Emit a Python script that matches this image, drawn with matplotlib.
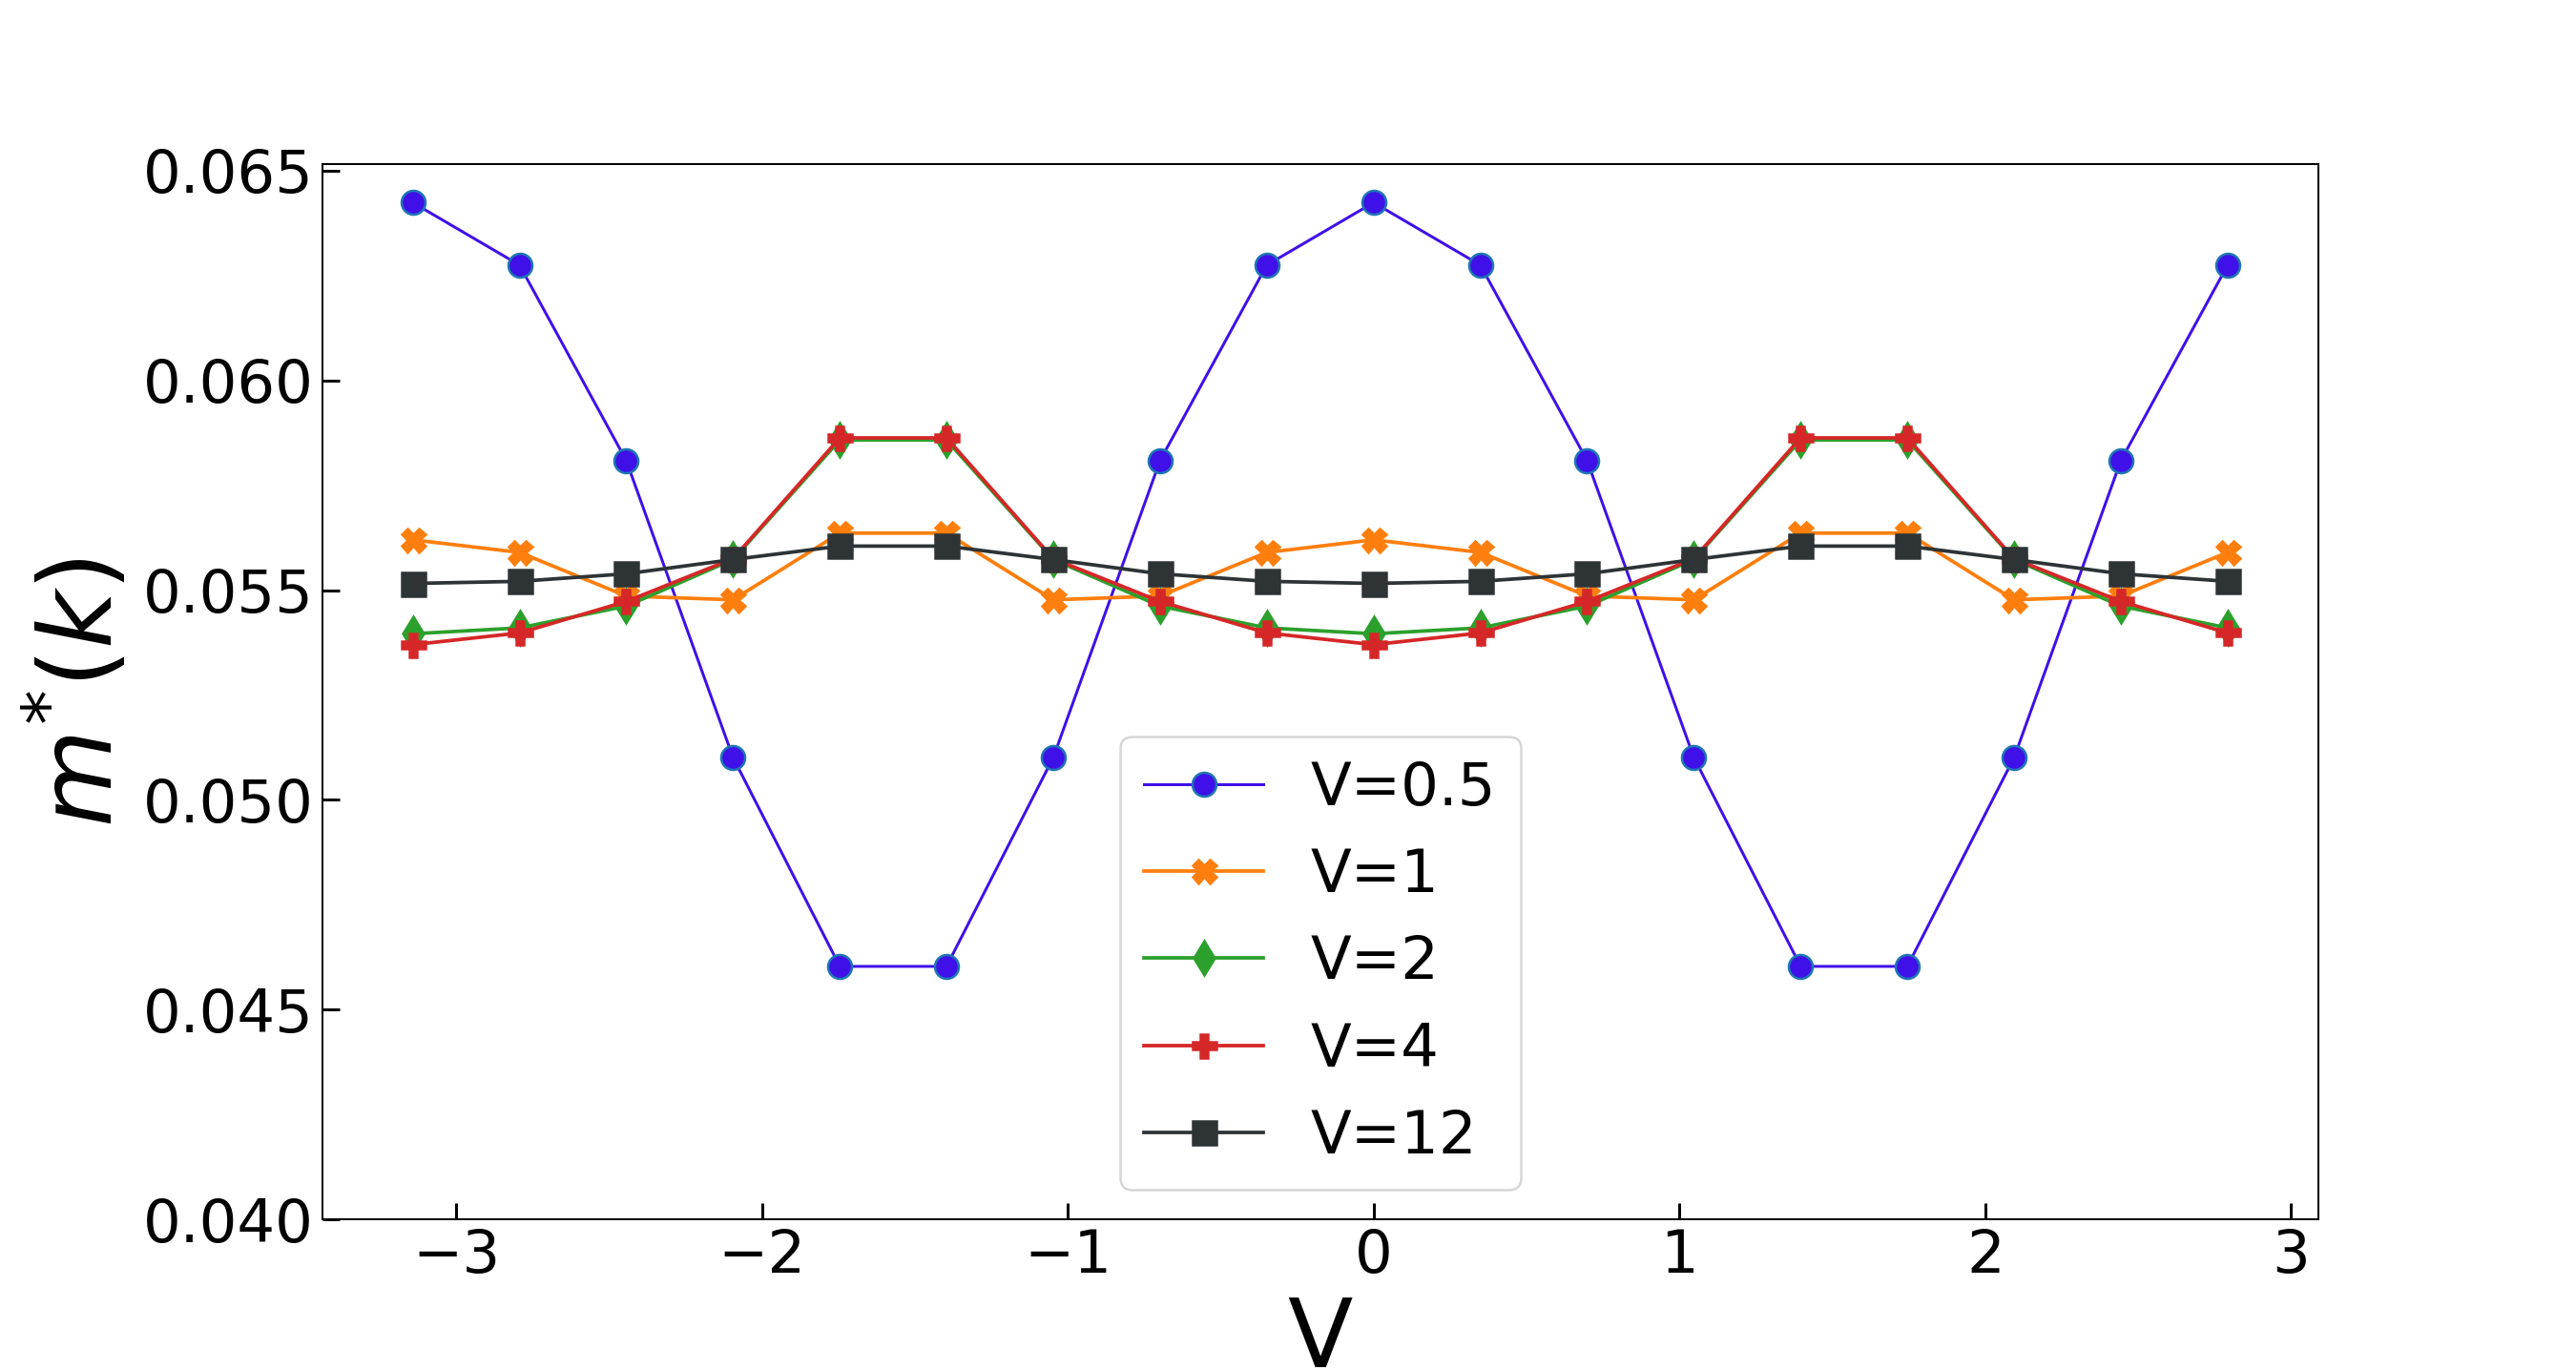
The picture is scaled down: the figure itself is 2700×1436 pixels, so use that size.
import numpy as np
import matplotlib
matplotlib.use("Agg")
import matplotlib.pyplot as plt

# k points: -pi .. 8pi/9 in steps of pi/9
k = [-3.1416, -2.7925, -2.4435, -2.0944, -1.7453, -1.3963, -1.0472, -0.6981, -0.3491,
     0.0, 0.3491, 0.6981, 1.0472, 1.3963, 1.7453, 2.0944, 2.4435, 2.7925]

m_v05 = [0.06424, 0.06275, 0.05809, 0.05101, 0.04603, 0.04603, 0.05101, 0.05809, 0.06275,
         0.06424, 0.06275, 0.05809, 0.05101, 0.04603, 0.04603, 0.05101, 0.05809, 0.06275]
m_v1 = [0.05620, 0.05590, 0.05486, 0.05477, 0.05636, 0.05636, 0.05477, 0.05486, 0.05590,
        0.05620, 0.05590, 0.05486, 0.05477, 0.05636, 0.05636, 0.05477, 0.05486, 0.05590]
m_v2 = [0.05396, 0.05410, 0.05462, 0.05573, 0.05858, 0.05858, 0.05573, 0.05462, 0.05410,
        0.05396, 0.05410, 0.05462, 0.05573, 0.05858, 0.05858, 0.05573, 0.05462, 0.05410]
m_v4 = [0.05370, 0.05398, 0.05473, 0.05575, 0.05863, 0.05863, 0.05575, 0.05473, 0.05398,
        0.05370, 0.05398, 0.05473, 0.05575, 0.05863, 0.05863, 0.05575, 0.05473, 0.05398]
m_v12 = [0.05516, 0.05521, 0.05539, 0.05573, 0.05605, 0.05605, 0.05573, 0.05539, 0.05521,
         0.05516, 0.05521, 0.05539, 0.05573, 0.05605, 0.05605, 0.05573, 0.05539, 0.05521]

labels = ['V=0.5', 'V=1', 'V=2', 'V=4', 'V=12']

fig, ax = plt.subplots(figsize=(15, 1436 / 180), dpi=180)

ax.plot(k, m_v05, '-o', color='#3f10e8', mec='#1f77b4', mfc='#3f10e8', lw=1.2, ms=10, label=labels[0])
ax.plot(k, m_v1, '-X', color='tab:orange', lw=1.5, ms=10, label=labels[1])
ax.plot(k, m_v2, '-d', color='tab:green', lw=1.5, ms=10, label=labels[2])
ax.plot(k, m_v4, '-P', color='tab:red', lw=1.5, ms=10, label=labels[3])
ax.plot(k, m_v12, '-s', color='#2e3436', lw=1.5, ms=10, label=labels[4])

ax.set_ylim(bottom=0.04)
ax.set_yticks([0.040, 0.045, 0.050, 0.055, 0.060, 0.065])
ax.tick_params(direction='in', length=7, width=1.2, labelsize=25)
ax.set_xlabel('V', fontsize=40)
ax.set_ylabel(r'$m^{*}(k)$', fontsize=42)
ax.legend(loc='lower center', fontsize=25)

fig.savefig('out.png', dpi=180)
